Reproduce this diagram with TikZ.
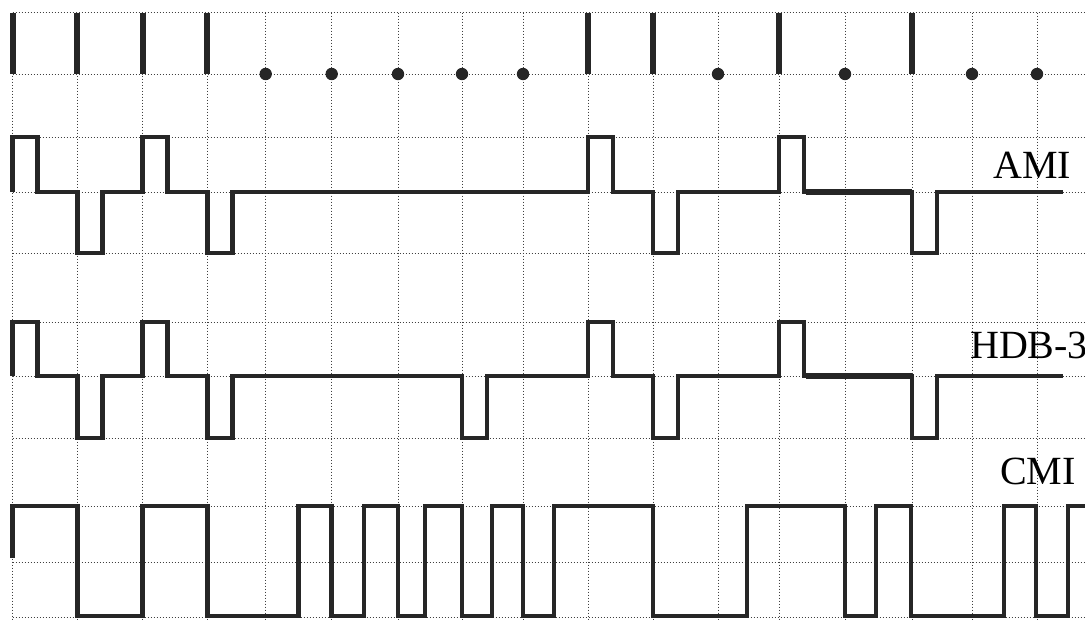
\documentclass[tikz,border=0pt]{standalone}
\usepackage{fontspec}
\setmainfont{Liberation Serif}
\usepackage{tikz}

\begin{document}
\begin{tikzpicture}[x=1pt,y=-1pt,
  gitter/.style={black!75,line width=1pt,dash pattern=on 1.2pt off 1.8pt},
  signal/.style={black!85,line width=4.8pt,line join=miter},
  bitstreg/.style={black!85,line width=6pt},
  navn/.style={font=\fontsize{40}{40}\selectfont,inner sep=0pt,anchor=base west}]
  \useasboundingbox (0,0) rectangle (1085,619);

  % Gitter
  \foreach \x in {12.7,77.3,142.7,207.3,265.7,331.7,398,462,523,588,653,718,779,845,912,972,1037}
    \draw[gitter] (\x,12.7) -- (\x,619);
  \foreach \y in {12.7,74,137,192,253,322,376,438,506,562,617}
    \draw[gitter] (12.7,\y) -- (1085,\y);

  % Bitfoelge
  \foreach \x/\b in {12.7/1,77.3/1,142.7/1,207.3/1,265.7/0,331.7/0,398/0,462/0,523/0,588/1,653/1,718/0,779/1,845/0,912/1,972/0,1037/0}{
    \ifnum\b=1 \draw[bitstreg] (\x,12.7) -- (\x,74);
    \else \fill[black!85] (\x,74) circle (6.2pt);
    \fi}

  % AMI
  \draw[signal] (12.7,192)
    \foreach \x/\y in {12.7/137,77.3/253,142.7/137,207.3/253,588/137,653/253,779/137,912/253}
      { -- (\x,192) |- (\x+25,\y) |- (\x+25,192) } -- (1063,192);
  \draw[signal,line width=6.5pt] (806,192) -- (912,192);
  \node[navn] (ami) at (993,178) {AMI};

  % HDB-3
  \draw[signal] (12.7,376)
    \foreach \x/\y in {12.7/322,77.3/438,142.7/322,207.3/438,462/438,588/322,653/438,779/322,912/438}
      { -- (\x,376) |- (\x+25,\y) |- (\x+25,376) } -- (1063,376);
  \draw[signal,line width=6.5pt] (806,376) -- (912,376);
  \node[navn] (hdb) at (970,358) {HDB-3};

  % CMI
  \draw[signal] (12.7,558) -- (12.7,506) -| (77.3,616) -| (142.7,506) -| (207.3,616)
    -| (298.7,506) -| (331.7,616) -| (364,506) -| (398,616) -| (425,506) -| (462,616)
    -| (492,506) -| (523,616) -| (554,506) -| (653,616) -| (747,506) -| (845,616)
    -| (876,506) -| (911,616) -| (1004,506) -| (1036,616) -| (1068,506) -- (1090,506);
  \node[navn] (cmi) at (1000,484) {CMI};
\end{tikzpicture}
\end{document}
